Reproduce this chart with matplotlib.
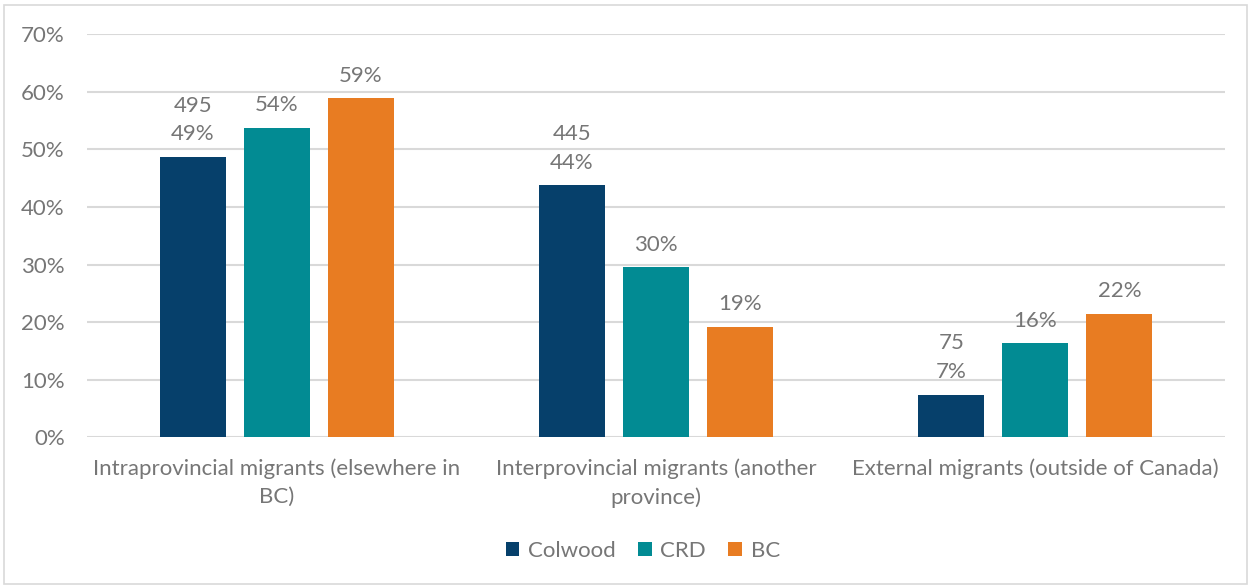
import numpy as np
import matplotlib.pyplot as plt
from matplotlib.patches import Rectangle

# ====== DATA ======
categories = [
    "Intraprovincial migrants (elsewhere in\nBC)",
    "Interprovincial migrants (another\nprovince)",
    "External migrants (outside of Canada)",
]
series_names = ["Colwood", "CRD", "BC"]
colwood_counts = [495, 445, 75]
colwood_pct = [48.7, 43.8, 7.4]
crd_pct = [53.8, 29.5, 16.3]
bc_pct = [58.9, 19.2, 21.5]
colors = ["#06406b", "#028b93", "#e87c22"]

text_gray = "#767676"
grid_gray = "#d9d9d9"
fs = 16

plt.rcParams["font.family"] = ["Lato", "DejaVu Sans"]

fig = plt.figure(figsize=(12.52, 5.88), dpi=100)
ax = fig.add_axes([87 / 1252, 1 - 437.3 / 588, (1225 - 87) / 1252, (437.3 - 34.3) / 588])

# outer chart frame
fig.patches.append(Rectangle((4 / 1252, 4 / 588), 1243 / 1252, 579 / 588,
                             transform=fig.transFigure, fill=False,
                             edgecolor=grid_gray, linewidth=1.2))

x = np.arange(len(categories))
width = 0.174
pitch = 0.2215
all_values = [colwood_pct, crd_pct, bc_pct]

for i, (name, vals, c) in enumerate(zip(series_names, all_values, colors)):
    pos = x + (i - 1) * pitch
    ax.bar(pos, vals, width=width, color=c, label=name, zorder=3)
    for j, (p, v) in enumerate(zip(pos, vals)):
        if i == 0:
            txt = f"{colwood_counts[j]}\n{v:.0f}%"
        else:
            txt = f"{v:.0f}%"
        ax.annotate(txt, (p, v), xytext=(0, 9), textcoords="offset points",
                    ha="center", va="bottom", fontsize=fs, color=text_gray,
                    linespacing=1.55)

ax.set_ylim(0, 70)
ax.set_xlim(-0.5, 2.5)
ax.set_yticks(np.arange(0, 71, 10))
ax.set_yticklabels([f"{t}%" for t in range(0, 71, 10)])
ax.set_xticks(x)
ax.set_xticklabels(categories, linespacing=1.5)
ax.tick_params(axis="both", length=0, labelsize=fs, labelcolor=text_gray)
ax.tick_params(axis="y", pad=16)
ax.tick_params(axis="x", pad=15)
ax.grid(axis="y", color=grid_gray, linewidth=1.5, zorder=0)
for s in ax.spines.values():
    s.set_visible(False)

ax.legend(loc="center", bbox_to_anchor=(643 / 1252, 1 - 551 / 588),
          bbox_transform=fig.transFigure, ncol=3, frameon=False,
          fontsize=fs, labelcolor=text_gray, handlelength=0.6,
          handleheight=0.6, handletextpad=0.4, columnspacing=1.0)

fig.savefig("out.png", dpi=100)
